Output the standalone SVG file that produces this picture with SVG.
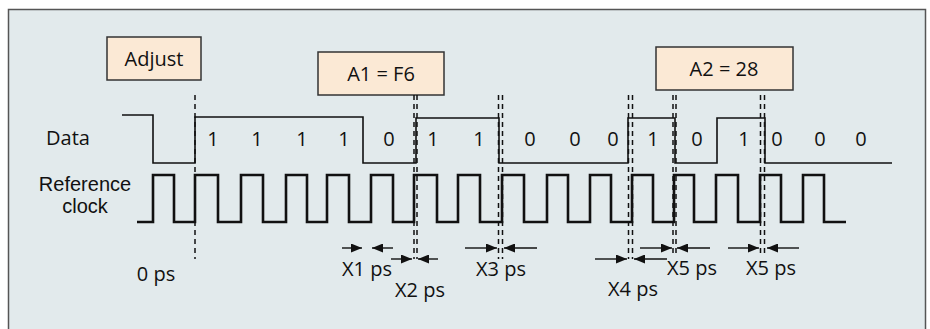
<svg xmlns="http://www.w3.org/2000/svg" width="930" height="329" viewBox="0 0 930 329">
<style>
text{font-family:"Open Sans","Noto Sans","Liberation Sans",sans-serif;font-size:20px;fill:#111}
.lbl2{font-family:"Liberation Sans",Arial,sans-serif;font-size:20px}
.box{fill:#fbe9d5;stroke:#333;stroke-width:1.5}
.data{fill:none;stroke:#111;stroke-width:1.6}
.clk{fill:none;stroke:#111;stroke-width:2.6}
.dash{fill:none;stroke:#111;stroke-width:1.5;stroke-dasharray:5 4}
.dim{fill:none;stroke:#111;stroke-width:1.4;marker-end:url(#ah)}
</style>
<defs>
<marker id="ah" markerUnits="userSpaceOnUse" markerWidth="11" markerHeight="9" refX="11" refY="4.5" orient="auto">
<path d="M0,0 L11,4.5 L0,9 Z" fill="#111"/>
</marker>
</defs>
<rect x="0" y="0" width="930" height="329" fill="#ffffff"/>
<rect x="8.5" y="9.5" width="917" height="340" fill="#e2eaec" stroke="#555" stroke-width="1.5"/>

<g id="labels">
<text x="68" y="145" text-anchor="middle">Data</text>
<text class="lbl2" x="85" y="190.5" text-anchor="middle">Reference</text>
<text class="lbl2" x="85" y="213" text-anchor="middle">clock</text>
<text x="156" y="281" text-anchor="middle">0 ps</text>
</g>

<g id="adjust">
<rect class="box" x="107" y="37" width="94" height="43"/>
<text x="154" y="66" text-anchor="middle">Adjust</text>
</g>
<g id="a1">
<rect class="box" x="318" y="52" width="126" height="43"/>
<text x="381" y="81" text-anchor="middle">A1 = F6</text>
</g>
<g id="a2">
<rect class="box" x="656" y="47" width="137" height="43"/>
<text x="724" y="76" text-anchor="middle">A2 = 28</text>
</g>

<g id="data-signal">
<path class="data" d="M122,115 H153 V163 H195 V117 H363 V163 H416 V118 H499 V163 H628 V118 H675 V163 H717 V118 H765 V163 H892"/>
<g text-anchor="middle">
<text x="213" y="146">1</text>
<text x="257" y="146">1</text>
<text x="302" y="146">1</text>
<text x="344" y="146">1</text>
<text x="389" y="146">0</text>
<text x="433" y="146">1</text>
<text x="479" y="146">1</text>
<text x="530" y="146">0</text>
<text x="575" y="146">0</text>
<text x="613" y="146">0</text>
<text x="653" y="146">1</text>
<text x="697" y="146">0</text>
<text x="744" y="146">1</text>
<text x="777" y="146">0</text>
<text x="820" y="146">0</text>
<text x="861" y="146">0</text>
</g>
</g>

<g id="reference-clock">
<path class="clk" d="M137,222 H153 V175 H174 V222 H195 V175 H218 V222 H241 V175 H263 V222 H286 V175 H307 V222 H327 V175 H349 V222 H371 V175 H393 V222 H414 V175 H437 V222 H458 V175 H480 V222 H502 V175 H524 V222 H547 V175 H568 V222 H590 V175 H611 V222 H632 V175 H653 V222 H674 V175 H694 V222 H716 V175 H738 V222 H760 V175 H781 V222 H803 V175 H824 V222 H846"/>
</g>

<g id="connectors">
<line class="dash" x1="195" y1="95" x2="195" y2="259"/>
<line class="dash" x1="414" y1="95" x2="414" y2="259"/>
<line class="dash" x1="417" y1="95" x2="417" y2="259"/>
<line class="dash" x1="498.5" y1="95" x2="498.5" y2="259"/>
<line class="dash" x1="502.5" y1="95" x2="502.5" y2="259"/>
<line class="dash" x1="628.5" y1="95" x2="628.5" y2="259"/>
<line class="dash" x1="632.5" y1="95" x2="632.5" y2="259"/>
<line class="dash" x1="673" y1="95" x2="673" y2="257"/>
<line class="dash" x1="676" y1="95" x2="676" y2="257"/>
<line class="dash" x1="760.5" y1="95" x2="760.5" y2="256"/>
<line class="dash" x1="764.5" y1="95" x2="764.5" y2="256"/>

<line class="dim" x1="342" y1="248" x2="362" y2="248"/>
<line class="dim" x1="393" y1="248" x2="372" y2="248"/>
<line class="dim" x1="391" y1="259" x2="412" y2="259"/>
<line class="dim" x1="438" y1="259" x2="418" y2="259"/>
<line class="dim" x1="465" y1="248" x2="497" y2="248"/>
<line class="dim" x1="537" y1="248" x2="504" y2="248"/>
<line class="dim" x1="595" y1="259" x2="627" y2="259"/>
<line class="dim" x1="667" y1="259" x2="634" y2="259"/>
<line class="dim" x1="640" y1="248" x2="672" y2="248"/>
<line class="dim" x1="710" y1="248" x2="677" y2="248"/>
<line class="dim" x1="728" y1="248" x2="759" y2="248"/>
<line class="dim" x1="799" y1="248" x2="767" y2="248"/>
</g>

<g id="dim-labels">
<text x="342" y="276">X1 ps</text>
<text x="395" y="297">X2 ps</text>
<text x="476" y="276">X3 ps</text>
<text x="608" y="296">X4 ps</text>
<text x="667" y="275">X5 ps</text>
<text x="746" y="275">X5 ps</text>
</g>
</svg>
